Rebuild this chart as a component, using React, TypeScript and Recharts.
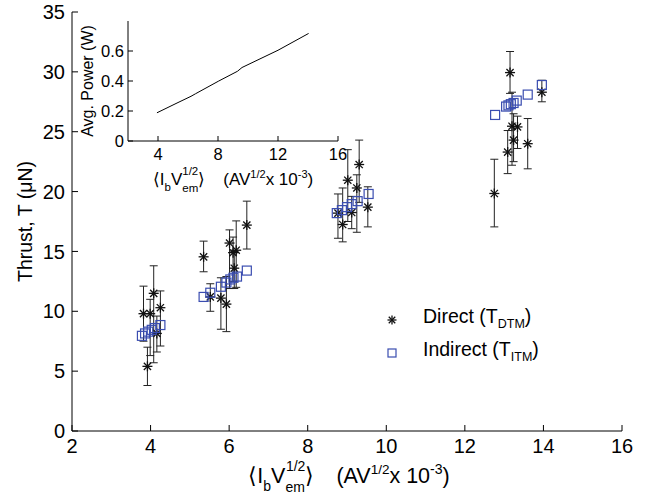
import React from 'react';
import { ScatterChart, Scatter, XAxis, YAxis, ErrorBar, Legend, LineChart, Line, Label } from 'recharts';

const FONT = '"Liberation Sans", Arial, Helvetica, sans-serif';

// Direct thrust measurements (T_DTM) with error bounds
const directX = [3.82, 3.99, 4.08, 4.25, 3.92, 4.16, 5.35, 5.52, 5.79, 5.93, 6.01, 6.1, 6.18, 6.13, 6.45, 8.77, 8.89, 9.02, 9.12, 9.25, 9.31, 9.53, 12.75, 13.15, 13.09, 13.2, 13.24, 13.34, 13.6, 13.96];
const directY = [9.8, 9.8, 11.5, 10.3, 5.4, 8.15, 14.55, 11.2, 11.1, 10.6, 15.7, 14.9, 15.1, 13.6, 17.2, 18.2, 17.25, 20.95, 18.25, 20.3, 22.26, 18.7, 19.84, 29.94, 23.3, 25.46, 24.3, 25.4, 24.0, 28.3];
const directLow = [7.5, 6.3, 5.7, 7.1, 3.8, 6.6, 13.3, 10.0, 8.5, 8.3, 11.9, 12.5, 12.0, 11.9, 15.2, 16.1, 15.8, 17.5, 16.9, 16.6, 19.1, 17.05, 17.05, 28.2, 21.5, 22.2, 22.5, 23.6, 21.9, 27.5];
const directHigh = [12.1, 11.0, 13.8, 11.7, 7.0, 9.6, 15.86, 12.3, 12.8, 12.9, 16.8, 16.2, 17.55, 15.0, 19.2, 19.8, 20.3, 23.5, 19.6, 21.4, 24.3, 20.4, 22.7, 31.7, 25.1, 28.3, 26.5, 26.3, 26.1, 29.3];

// Indirect thrust (T_ITM)
const indirectX = [3.78, 3.86, 3.94, 4.03, 4.11, 4.25, 5.35, 5.52, 5.79, 5.93, 6.03, 6.11, 6.2, 6.45, 8.74, 8.87, 9.0, 9.12, 9.27, 9.55, 12.77, 13.05, 13.11, 13.17, 13.24, 13.32, 13.6, 13.96];
const indirectY = [7.95, 8.15, 8.3, 8.45, 8.6, 8.85, 11.2, 11.55, 12.05, 12.4, 12.66, 12.8, 12.9, 13.4, 18.2, 18.45, 18.7, 18.95, 19.2, 19.8, 26.4, 27.1, 27.2, 27.3, 27.4, 27.6, 28.1, 28.9];

const xTicks = [2, 4, 6, 8, 10, 12, 14, 16];
const yTicks = [0, 5, 10, 15, 20, 25, 30, 35];

// Inset: average power vs <Ib Vem^1/2>
const insetX = [3.93, 5.2, 6.2, 6.5, 8.05, 9.3, 9.6, 12.0, 14.04];
const insetPower = [0.188, 0.25, 0.298, 0.315, 0.4, 0.465, 0.49, 0.605, 0.717];
const insetXTicks = [4, 8, 12, 16];
const insetYTicks = [0, 0.2, 0.4, 0.6];

const directData = directX.map((x, i) => ({ x, y: directY[i], err: [directY[i] - directLow[i], directHigh[i] - directY[i]] }));
const indirectData = indirectX.map((x, i) => ({ x, y: indirectY[i] }));
const insetData = insetX.map((x, i) => ({ x, p: insetPower[i] }));

const BLUE = '#3a4db0';

const Asterisk = ({ cx, cy, r = 5 }: any) => {
  const d = r * 0.72;
  return (
    <g stroke="#111" strokeWidth={1.3}>
      <line x1={cx - r} y1={cy} x2={cx + r} y2={cy} />
      <line x1={cx} y1={cy - r} x2={cx} y2={cy + r} />
      <line x1={cx - d} y1={cy - d} x2={cx + d} y2={cy + d} />
      <line x1={cx - d} y1={cy + d} x2={cx + d} y2={cy - d} />
    </g>
  );
};

const Square = ({ cx, cy, s = 9 }: any) => (
  <rect x={cx - s / 2} y={cy - s / 2} width={s} height={s} fill="none" stroke={BLUE} strokeWidth={1.2} />
);

const MainXLabel = ({ viewBox }: any) => {
  const cx = viewBox.x + viewBox.width / 2 + 2;
  const y = viewBox.y + 52;
  return (
    <text x={cx} y={y} textAnchor="middle" fontSize={21.5} fontFamily={FONT} fill="#000" style={{ whiteSpace: 'pre' }}>
      <tspan>⟨I</tspan>
      <tspan fontSize={14} dy={8}>b</tspan>
      <tspan dy={-8}>V</tspan>
      <tspan fontSize={14} dy={9}>em</tspan>
      <tspan fontSize={14} dx={-19} dy={-21}>1/2</tspan>
      <tspan dy={12}>⟩</tspan>
      <tspan dx={22}>(AV</tspan>
      <tspan fontSize={13.5} dy={-9}>1/2</tspan>
      <tspan dy={9}>x 10</tspan>
      <tspan fontSize={14} dy={-9}>-3</tspan>
      <tspan dy={9}>)</tspan>
    </text>
  );
};

const MainYLabel = ({ viewBox }: any) => {
  const x = viewBox.x + 32;
  const y = viewBox.y + viewBox.height / 2;
  return (
    <text x={x} y={y} transform={`rotate(-90 ${x} ${y})`} textAnchor="middle" fontSize={19.5} fontFamily={FONT} fill="#000">
      Thrust, T (μN)
    </text>
  );
};

const InsetXLabel = ({ viewBox }: any) => {
  const cx = viewBox.x + viewBox.width / 2;
  const y = viewBox.y + 44;
  return (
    <text x={cx} y={y} textAnchor="middle" fontSize={17} fontFamily={FONT} fill="#000" style={{ whiteSpace: 'pre' }}>
      <tspan>⟨I</tspan>
      <tspan fontSize={11.5} dy={6}>b</tspan>
      <tspan dy={-6}>V</tspan>
      <tspan fontSize={11.5} dy={7}>em</tspan>
      <tspan fontSize={11.5} dx={-16} dy={-17}>1/2</tspan>
      <tspan dy={10}>⟩</tspan>
      <tspan dx={18}>(AV</tspan>
      <tspan fontSize={11} dy={-7}>1/2</tspan>
      <tspan dy={7}>x 10</tspan>
      <tspan fontSize={11} dy={-7}>-3</tspan>
      <tspan dy={7}>)</tspan>
    </text>
  );
};

const InsetYLabel = ({ viewBox }: any) => {
  const x = viewBox.x + 33;
  const y = viewBox.y + viewBox.height / 2;
  return (
    <text x={x} y={y} transform={`rotate(-90 ${x} ${y})`} textAnchor="middle" fontSize={16} fontFamily={FONT} fill="#000">
      Avg. Power (W)
    </text>
  );
};

const LegendContent = () => (
  <div style={{ fontFamily: FONT, fontSize: 19.5, color: '#000', lineHeight: '20px' }}>
    <div style={{ display: 'flex', alignItems: 'center', height: 33 }}>
      <svg width={24} height={20}><Asterisk cx={12} cy={10} r={4.5} /></svg>
      <span style={{ marginLeft: 19 }}>Direct (T<sub style={{ fontSize: 12.5, verticalAlign: '-5px' }}>DTM</sub>)</span>
    </div>
    <div style={{ display: 'flex', alignItems: 'center', height: 33 }}>
      <svg width={24} height={20}><Square cx={12} cy={10} s={8} /></svg>
      <span style={{ marginLeft: 19 }}>Indirect (T<sub style={{ fontSize: 12.5, verticalAlign: '-5px' }}>ITM</sub>)</span>
    </div>
  </div>
);

const tickStyle = { fontSize: 20, fontFamily: FONT, fill: '#000' };
const insetTickStyle = { fontSize: 16.5, fontFamily: FONT, fill: '#000' };
const axisLine = { stroke: '#000', strokeWidth: 1 };

export default function App() {
  return (
    <div style={{ position: 'absolute', left: 0, top: 0, width: 645, height: 500, background: '#fff' }}>
      <ScatterChart width={645} height={500} margin={{ top: 12, right: 23, bottom: 0, left: 0 }}>
        <XAxis xAxisId="b" type="number" dataKey="x" domain={[2, 16]} ticks={xTicks} orientation="bottom" height={69}
          tickSize={-6} tickMargin={14} tick={tickStyle} axisLine={axisLine} tickLine={axisLine} allowDataOverflow>
          <Label content={(p: any) => <MainXLabel viewBox={p.viewBox} />} />
        </XAxis>
        <XAxis xAxisId="t" type="number" dataKey="x" domain={[2, 16]} ticks={xTicks} orientation="top" height={0}
          tickSize={-6} tick={false} axisLine={axisLine} tickLine={axisLine} allowDataOverflow />
        <YAxis yAxisId="l" type="number" dataKey="y" domain={[0, 35]} ticks={yTicks} width={72}
          tickSize={-6} tickMargin={13} tick={tickStyle} axisLine={axisLine} tickLine={axisLine} allowDataOverflow>
          <Label content={(p: any) => <MainYLabel viewBox={p.viewBox} />} />
        </YAxis>
        <YAxis yAxisId="r" type="number" dataKey="y" domain={[0, 35]} ticks={yTicks} orientation="right" width={0}
          tickSize={-6} tick={false} axisLine={axisLine} tickLine={axisLine} allowDataOverflow />
        <Scatter name="Direct" data={directData} xAxisId="b" yAxisId="l" isAnimationActive={false}
          shape={(p: any) => <Asterisk cx={p.cx} cy={p.cy} />}>
          <ErrorBar dataKey="err" direction="y" width={4} stroke="#222" strokeWidth={1} isAnimationActive={false} />
        </Scatter>
        <Scatter name="Indirect" data={indirectData} xAxisId="b" yAxisId="l" isAnimationActive={false}
          shape={(p: any) => <Square cx={p.cx} cy={p.cy} />} />
        <Legend layout="horizontal" verticalAlign="middle" align="center" content={<LegendContent />}
          wrapperStyle={{ position: 'absolute', left: 380, top: 303, width: 240, height: 70 }} />
      </ScatterChart>
      <div style={{ position: 'absolute', left: 60, top: 10 }}>
        <LineChart width={300} height={190} data={insetData} margin={{ top: 11, right: 22, bottom: 0, left: 0 }}>
          <XAxis xAxisId="b" type="number" dataKey="x" domain={[2, 16]} ticks={insetXTicks} height={59}
            tickSize={-5} tickMargin={12} tick={insetTickStyle} axisLine={axisLine} tickLine={axisLine} allowDataOverflow>
            <Label content={(p: any) => <InsetXLabel viewBox={p.viewBox} />} />
          </XAxis>
          <XAxis xAxisId="t" type="number" dataKey="x" domain={[2, 16]} ticks={insetXTicks} orientation="top" height={0}
            tickSize={-5} tick={false} axisLine={axisLine} tickLine={axisLine} allowDataOverflow />
          <YAxis yAxisId="l" type="number" domain={[0, 0.8]} ticks={insetYTicks} width={68}
            tickSize={-5} tickMargin={9} tick={insetTickStyle} axisLine={axisLine} tickLine={axisLine} allowDataOverflow>
            <Label content={(p: any) => <InsetYLabel viewBox={p.viewBox} />} />
          </YAxis>
          <YAxis yAxisId="r" type="number" domain={[0, 0.8]} ticks={insetYTicks} orientation="right" width={0}
            tickSize={-5} tick={false} axisLine={axisLine} tickLine={axisLine} allowDataOverflow />
          <Line xAxisId="b" yAxisId="l" type="linear" dataKey="p" stroke="#000" strokeWidth={1} dot={false} isAnimationActive={false} />
        </LineChart>
      </div>
    </div>
  );
}
